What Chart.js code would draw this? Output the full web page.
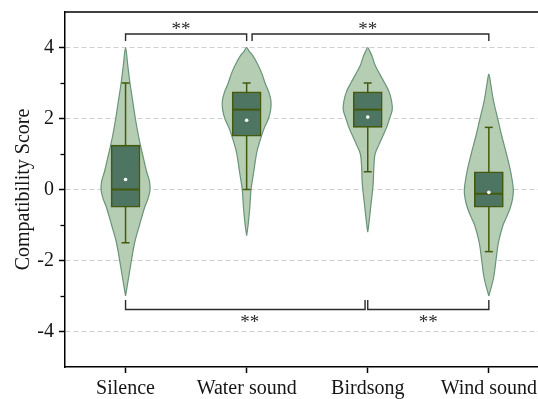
<!DOCTYPE html>
<html><head><meta charset="utf-8">
<script src="https://cdn.jsdelivr.net/npm/chart.js@4/dist/chart.umd.min.js"></script>
<style>html,body{margin:0;padding:0;background:#fff}#wrap{width:538px;height:399px}</style>
</head><body><div id="wrap"><canvas id="c" width="538" height="399"></canvas></div>
<script>
// ---------- data ----------
const categories = ['Silence', 'Water sound', 'Birdsong', 'Wind sound'];
const yMajorTicks = [-4, -2, 0, 2, 4];
const yMinorTicks = [-3, -1, 1, 3];

const q1 = [-0.5, 1.5, 1.75, -0.5];
const medians = [0, 2.25, 2.25, -0.12];
const q3 = [1.25, 2.75, 2.75, 0.5];
const means = [0.28, 1.95, 2.04, -0.08];
const whiskerLow = [-1.5, 0, 0.5, -1.75];
const whiskerHigh = [3, 3, 3, 1.75];

// violin profiles: score level (top -> bottom) and relative density (1 = widest)
const silenceLevels  = [4, 3.5, 3, 2.5, 2, 1.5, 1, 0.5, 0.25, 0, -0.25, -0.5, -1, -1.5, -2, -2.5, -3];
const silenceDensity = [0, 0.09, 0.18, 0.29, 0.40, 0.53, 0.69, 0.86, 0.97, 1.0, 0.92, 0.78, 0.57, 0.37, 0.24, 0.12, 0];
const waterLevels  = [4, 3.9, 3.75, 3.5, 3.25, 3, 2.75, 2.5, 2.25, 2, 1.75, 1.5, 1.25, 1, 0.5, 0, -0.5, -1, -1.3];
const waterDensity = [0, 0.10, 0.27, 0.47, 0.63, 0.75, 0.90, 0.99, 0.98, 0.89, 0.73, 0.60, 0.49, 0.40, 0.29, 0.18, 0.13, 0.06, 0];
const birdLevels  = [4, 3.9, 3.75, 3.5, 3.25, 3, 2.75, 2.5, 2.25, 2, 1.75, 1.5, 1.25, 1, 0.75, 0.5, 0.25, 0, -0.5, -1, -1.2];
const birdDensity = [0, 0.08, 0.18, 0.30, 0.49, 0.69, 0.87, 0.97, 1.0, 0.89, 0.77, 0.61, 0.45, 0.30, 0.26, 0.24, 0.23, 0.20, 0.12, 0.04, 0];
const windLevels  = [3.25, 3, 2.5, 2, 1.5, 1, 0.5, 0, -0.25, -0.5, -0.75, -1, -1.5, -2, -2.5, -3];
const windDensity = [0, 0.07, 0.19, 0.36, 0.53, 0.72, 0.89, 1.0, 0.97, 0.88, 0.74, 0.58, 0.39, 0.29, 0.19, 0];

// significance comparisons (category numbers, 1-based) and labels
const sigFrom   = [1, 2, 1, 3];
const sigTo     = [2, 4, 3, 4];
const sigLabels = ['**', '**', '**', '**'];
const sigSide   = ['top', 'top', 'bottom', 'bottom'];

// ---------- styles / geometry (not data) ----------
const violinLevels = [silenceLevels, waterLevels, birdLevels, windLevels];
const violinDensity = [silenceDensity, waterDensity, birdDensity, windDensity];
const VIOLIN_HALF = 0.2025;      // x-units at density 1
const COL_VFILL = '#b5cdb3', COL_VLINE = '#6a937a', COL_BOX = '#4e7561', COL_OLIVE = '#435a0c';
const FONT = 'Liberation Serif';
const TOP_Y = 4.38, TOP_LEG = 0.2, BOT_Y = -3.38, BOT_LEG = 0.27;
const sigStartShift = [0, 0.045, 0, 0];
const sigEndShift = [0, 0, -0.022, 0];
const starPxShift = [-5, 0, 3, 0];

const datasets = [];
categories.forEach((cat, i) => {
  const c = i + 1;
  const lv = violinLevels[i], dn = violinDensity[i];
  const pts = [];
  for (let k = lv.length - 1; k >= 0; k--) pts.push({x: c + dn[k] * VIOLIN_HALF, y: lv[k]});
  for (let k = 1; k < lv.length; k++) pts.push({x: c - dn[k] * VIOLIN_HALF, y: lv[k]});
  datasets.push({type: 'line', data: pts, borderColor: COL_VLINE, borderWidth: 1.2,
    backgroundColor: COL_VFILL, fill: 'shape', tension: 0.35, pointRadius: 0, order: 50});
  datasets.push({type: 'line', data: [{x: c, y: whiskerLow[i]}, {x: c, y: whiskerHigh[i]}],
    borderColor: COL_OLIVE, borderWidth: 1.5, pointRadius: 0, tension: 0, fill: false, order: 40});
});
datasets.push({type: 'scatter', data: categories.flatMap((c, i) => [{x: i + 1, y: whiskerLow[i]}, {x: i + 1, y: whiskerHigh[i]}]),
  pointStyle: 'line', pointRadius: 4, borderColor: COL_OLIVE, borderWidth: 1.5, order: 35});
datasets.push({type: 'bar', data: categories.map((c, i) => ({x: i + 1, y: [q1[i], q3[i]]})),
  backgroundColor: COL_BOX, borderColor: COL_OLIVE, borderWidth: 1.6, borderSkipped: false,
  barThickness: 29, order: 30});
datasets.push({type: 'scatter', data: categories.map((c, i) => ({x: i + 1, y: medians[i]})),
  pointStyle: 'line', pointRadius: 13.6, borderColor: COL_OLIVE, borderWidth: 2, order: 20});
datasets.push({type: 'scatter', data: categories.map((c, i) => ({x: i + 1, y: means[i]})),
  pointStyle: 'circle', pointRadius: 1.8, backgroundColor: '#ffffff', borderWidth: 0, order: 10});
sigFrom.forEach((a, k) => {
  const x0 = a + sigStartShift[k], x1 = sigTo[k] + sigEndShift[k];
  const top = sigSide[k] === 'top';
  const yb = top ? TOP_Y : BOT_Y, leg = top ? yb - TOP_LEG : yb + BOT_LEG;
  datasets.push({type: 'line', data: [{x: x0, y: leg}, {x: x0, y: yb}, {x: x1, y: yb}, {x: x1, y: leg}],
    borderColor: '#2b2b2b', borderWidth: 1.4, pointRadius: 0, tension: 0, fill: false, order: 45});
});

const decor = {
  id: 'decor',
  afterDraw(chart) {
    const {ctx, chartArea: a, scales: {x, y}} = chart;
    ctx.save();
    // top frame line
    ctx.strokeStyle = '#000'; ctx.lineWidth = 1.6;
    ctx.beginPath(); ctx.moveTo(a.left - 0.75, a.top); ctx.lineTo(a.right, a.top); ctx.stroke();
    // minor ticks
    ctx.lineWidth = 1.3;
    yMinorTicks.forEach(v => {
      const py = Math.round(y.getPixelForValue(v)) + 0.5;
      ctx.beginPath(); ctx.moveTo(a.left - 4.5, py); ctx.lineTo(a.left, py); ctx.stroke();
    });
    // significance stars
    ctx.fillStyle = '#2b2b2b';
    ctx.font = '19px "' + FONT + '"';
    ctx.textAlign = 'center'; ctx.textBaseline = 'alphabetic';
    sigFrom.forEach((f, k) => {
      const mx = (x.getPixelForValue(f) + x.getPixelForValue(sigTo[k])) / 2 + starPxShift[k];
      const top = sigSide[k] === 'top';
      const ly = y.getPixelForValue(top ? TOP_Y : BOT_Y);
      const cy = top ? ly - 8.7 : ly + 8.7;
      ctx.fillText(sigLabels[k], mx, cy + 9.5);
    });
    ctx.restore();
  }
};

function noPadX(s) { s.height = 32; s.paddingLeft = 0; s.paddingRight = 0; }
function noPadY(s) { s.width = 65; s.paddingTop = 0; s.paddingBottom = 0; }

new Chart(document.getElementById('c'), {
  type: 'scatter',
  data: {datasets},
  plugins: [decor],
  options: {
    responsive: false, animation: false, devicePixelRatio: 1,
    layout: {autoPadding: false, padding: {top: 12, right: 0, left: 0, bottom: 0}},
    plugins: {legend: {display: false}, tooltip: {enabled: false}},
    scales: {
      x: {
        type: 'linear', min: 0.5, max: 4.406, offset: false,
        afterBuildTicks: s => { s.ticks = categories.map((c, i) => ({value: i + 1})); },
        afterFit: noPadX,
        grid: {drawOnChartArea: false, drawTicks: true, tickLength: 6, tickColor: '#000', tickWidth: 1.5, offset: false},
        border: {display: true, color: '#000', width: 1.5},
        ticks: {autoSkip: false, maxRotation: 0, minRotation: 0, padding: 4, color: '#151515',
          font: {family: FONT, size: 20}, callback: v => categories[Math.round(v) - 1] || ''}
      },
      y: {
        type: 'linear', min: -5, max: 5, beginAtZero: false,
        afterBuildTicks: s => { s.ticks = yMajorTicks.map(v => ({value: v})); },
        afterFit: noPadY,
        grid: {color: '#cfcfcf', lineWidth: 1, drawTicks: true, tickLength: 6, tickColor: '#000', tickWidth: 1.5},
        border: {display: true, color: '#000', width: 1.5, dash: [5, 3]},
        ticks: {padding: 5, color: '#151515', font: {family: FONT, size: 20}, callback: v => String(v)},
        title: {display: true, text: 'Compatibility Score', color: '#151515',
          font: {family: FONT, size: 20}, padding: {top: 12, bottom: 0}}
      }
    }
  }
});
</script></body></html>
